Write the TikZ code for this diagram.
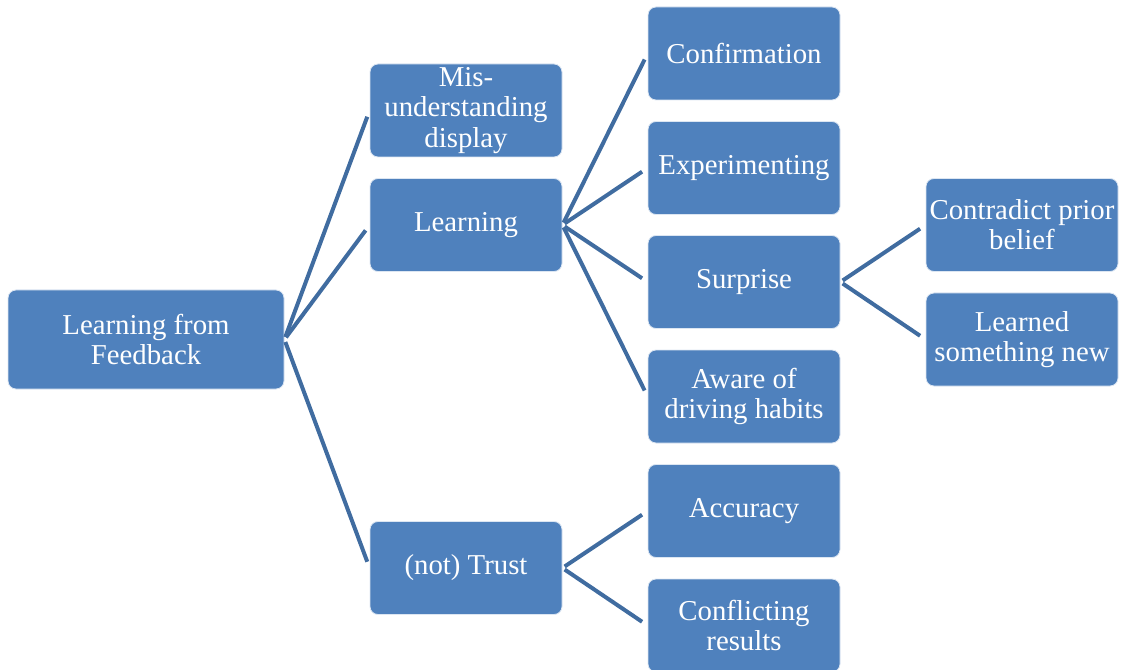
\documentclass[tikz,border=0pt]{standalone}
\usepackage{fontspec}
\setmainfont{Liberation Serif}
\usepackage{xcolor}
\definecolor{boxblue}{RGB}{79,129,189}
\definecolor{lineblue}{RGB}{64,108,160}
\begin{document}
\begin{tikzpicture}[x=0.75pt, y=-0.75pt,
	box/.style={draw=white!80!boxblue, line width=0.6pt, fill=boxblue, rounded corners=6pt,
		minimum width=144pt, minimum height=69.75pt, inner sep=0pt, align=center,
		text=white, font=\fontsize{21.6}{22.6}\selectfont},
	link/.style={draw=lineblue, line width=3pt, shorten <=2pt, shorten >=5pt}]
	\useasboundingbox (0,0) rectangle (1121,670);
%	root
	\node[box, minimum width=207pt, minimum height=74.25pt] (root) at (146,339.5) {Learning from\\Feedback};
%	second level
	\node[box] (mis) at (466,110.5) {Mis-\\understanding\\display};
	\node[box] (learn) at (466,225) {Learning};
	\node[box] (trust) at (466,568) {(not) Trust};
%	third level
	\node[box] (conf) at (744,53.5) {Confirmation};
	\node[box] (exper) at (744,168) {Experimenting};
	\node[box] (surp) at (744,282) {Surprise};
	\node[box] (aware) at (744,396.5) {Aware of\\driving habits};
	\node[box] (accu) at (744,511) {Accuracy};
	\node[box] (confl) at (744,625.5) {Conflicting\\results};
%	fourth level
	\node[box] (contra) at (1022,225) {Contradict prior\\belief};
	\node[box] (learned) at (1022,339.5) {Learned\\something new};
%	connectors
	\draw[link] (root.east) -- (mis.west);
	\draw[link] (root.east) -- (learn.west);
	\draw[link] (root.east) -- (trust.west);
	\draw[link] (learn.east) -- (conf.west);
	\draw[link] (learn.east) -- (exper.west);
	\draw[link] (learn.east) -- (surp.west);
	\draw[link] (learn.east) -- (aware.west);
	\draw[link] (trust.east) -- (accu.west);
	\draw[link] (trust.east) -- (confl.west);
	\draw[link] (surp.east) -- (contra.west);
	\draw[link] (surp.east) -- (learned.west);

\end{tikzpicture}
\end{document}
